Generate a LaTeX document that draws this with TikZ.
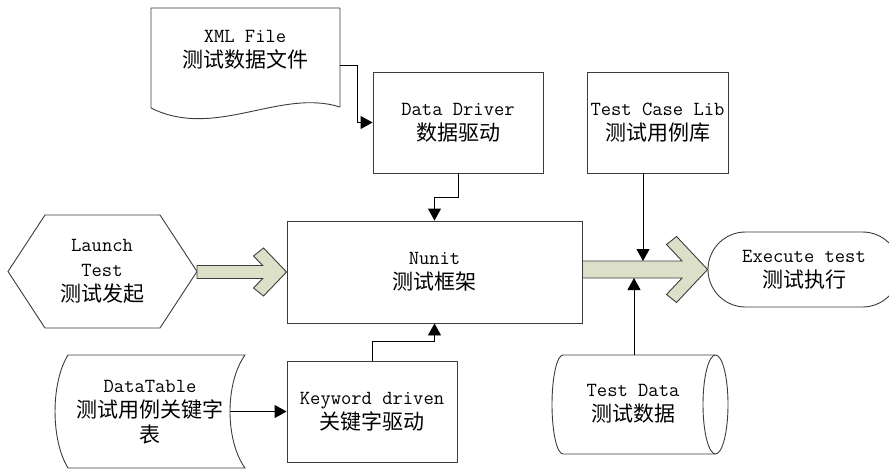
\documentclass[tikz,border=0pt]{standalone}
\usepackage{fontspec}
\newfontfamily\cjk[Scale=1.05]{Noto Sans CJK SC}
\usetikzlibrary{arrows.meta,calc,positioning,shapes.misc}
\definecolor{edgegray}{RGB}{60,60,60}
\definecolor{arrowfill}{RGB}{221,224,200}
\tikzset{
  >={Triangle[length=12pt,width=13pt]},
  line join=miter,
  labelfont/.style={font=\fontsize{20}{25}\selectfont\ttfamily},
  box/.style={draw=edgegray, line width=0.9pt, minimum width=170pt, minimum height=101pt, align=center, inner sep=0pt, labelfont},
  txt/.style={align=center, inner sep=0pt, labelfont},
  outline/.style={draw=edgegray, line width=0.9pt},
  link/.style={->, line width=0.9pt},
  fatarrow/.style={draw=edgegray, fill=arrowfill, line width=0.9pt}
}
% wide hollow-headed arrow: from, to, head length, head half height, shaft half height
\newcommand{\fatarrow}[5]{%
  \pgfmathsetmacro{\fatin}{-#3-10+(#4-8-#5)*#3/#4}%
  \draw[fatarrow] ($(#1 |- #2)+(0,-#5)$) -- ($(#2)+(\fatin,-#5)$)
    -- ($(#2)+(-#3-10,-#4+8)$) -- ($(#2)+(-#3,-#4)$) -- (#2)
    -- ($(#2)+(-#3,#4)$) -- ($(#2)+(-#3-10,#4-8)$)
    -- ($(#2)+(\fatin,#5)$) -- ($(#1 |- #2)+(0,#5)$) -- cycle;}

\begin{document}
\begin{tikzpicture}[x=1pt,y=-1pt]
  \useasboundingbox (0,0) rectangle (889,471);
  \clip (0,0) rectangle (889,471);

  % xml document
  \draw[outline] (340,107) -- (340,8) -- (151,8) -- (151,108)
    .. controls (215,140) and (280,88) .. (340,107);
  \node[txt] (xml) at (245,50) {XML File\\{\cjk 测试数据文件}};
  \coordinate (xml-out) at (340,65);

  % launch hexagon
  \draw[outline] (8,271.5) -- (45,215) -- (160,215) -- (197,271.5)
    -- (160,328) -- (45,328) -- cycle;
  \node[txt] (launch) at (102,271.5) {Launch\\Test\\{\cjk 测试发起}};
  \coordinate (launch-e) at (197,271.5);

  % data table
  \draw[outline] (68,355) -- (245,355) .. controls (225,383) and (225,440) .. (245,468)
    -- (68,468) .. controls (50.7,440) and (50.7,383) .. (68,355) -- cycle;
  \node[txt] (dtab) at (150,412) {DataTable\\{\cjk 测试用例关键字}\\{\cjk 表}};
  \coordinate (dtab-out) at (230,411.5);

  % test data drum
  \draw[outline] (715,355) -- (563,355)
    arc[start angle=270, end angle=90, x radius=11, y radius=49.5] -- (715,454);
  \draw[outline] (715.5,404.5) ellipse [x radius=12.5, y radius=49.5];
  \node[txt] (tdata) at (633,404) {Test Data\\{\cjk 测试数据}};
  \coordinate (tdata-in) at (634,355);

  \node[box] (drv) at (458,122.5) {Data Driver\\{\cjk 数据驱动}};
  \node[box, minimum width=141pt] (lib) at (657.5,122.5) {Test Case Lib\\{\cjk 测试用例库}};
  \node[box, minimum width=295pt, minimum height=102pt] (nunit) at (434.5,272) {Nunit\\{\cjk 测试框架}};
  \node[box] (kwd) at (372,411.5) {Keyword driven\\{\cjk 关键字驱动}};
  \node[box, rounded rectangle, minimum width=192pt, minimum height=75pt] (exec) at (804,269.5)
    {Execute test\\{\cjk 测试执行}};

  \draw[link] (xml-out) -- ++(17,0) |- (drv.west);
  \draw[link] (drv.south) -- ++(0,24) -| (nunit.north);
  \draw[link] (kwd.north) -- ++(0,-19) -| (nunit.south);
  \draw[link] (dtab-out) -- (kwd.west);

  \fatarrow{launch-e}{nunit.west}{23}{24}{6.5}
  \fatarrow{nunit.east}{exec.west}{31}{33}{8.5}

  \coordinate (fa-top) at (643,261);
  \coordinate (fa-bot) at (634,278);
  \draw[link] (lib.south -| fa-top) -- (fa-top);
  \draw[link] (tdata-in) -- (fa-bot);
\end{tikzpicture}
\end{document}
